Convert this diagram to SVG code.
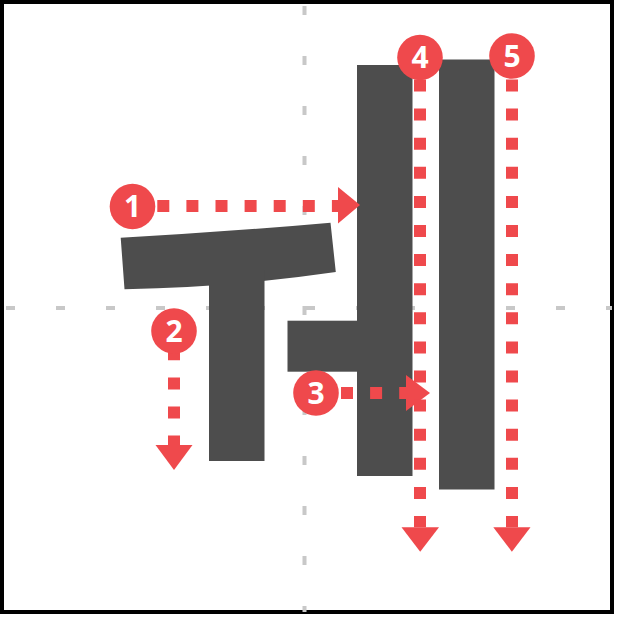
<svg xmlns="http://www.w3.org/2000/svg" width="617" height="617" viewBox="0 0 617 617">
<defs>
<style>
.guide{stroke:#c8c8c8;stroke-width:4;stroke-dasharray:9 41;fill:none}
.stroke{fill:#4d4d4d}
.flow{stroke:#ef494c;stroke-width:12;stroke-dasharray:12 17.1;fill:none}
.head{fill:#ef494c}
.badge{fill:#ef494c}
.num{fill:#ffffff;font-family:"Open Sans","Liberation Sans",sans-serif;font-weight:bold;font-size:30px;text-anchor:middle}
</style>
</defs>
<rect x="0" y="0" width="617" height="617" fill="#ffffff"/>
<rect x="2" y="2" width="610" height="610" fill="none" stroke="#000000" stroke-width="4"/>
<g id="guides">
<line class="guide" x1="304.5" y1="6" x2="304.5" y2="612"/>
<line class="guide" x1="6" y1="308" x2="612" y2="308"/>
</g>
<g id="glyph">
<path id="bar-u" class="stroke" d="M120.7,237.7 Q226,232 330.5,222.7 L335.8,272 Q230,287.5 124.5,289.2 Z"/>
<rect id="stem-u" class="stroke" x="209" y="270" width="55.5" height="191"/>
<rect id="stub-eo" class="stroke" x="287.5" y="320.7" width="75" height="51"/>
<rect id="bar-eo" class="stroke" x="357" y="65" width="55.5" height="411"/>
<rect id="bar-i" class="stroke" x="439" y="59.5" width="55.5" height="430"/>
</g>
<g id="connectors">
<line class="flow" x1="157.3" y1="206" x2="338.3" y2="206"/>
<polygon class="head" points="338,187 360,205 338,223.5"/>
<line class="flow" x1="174" y1="348.3" x2="174" y2="445"/>
<polygon class="head" points="155.5,445 192.5,445 174,470"/>
<line class="flow" x1="341" y1="393" x2="406" y2="393"/>
<polygon class="head" points="406,375 430,393 406,411"/>
<line class="flow" x1="420" y1="79.5" x2="420" y2="527.3"/>
<polygon class="head" points="401.5,527.3 439,527.3 420.2,551.7"/>
<line class="flow" x1="512" y1="79.5" x2="512" y2="527.3"/>
<polygon class="head" points="493.3,527.3 530.5,527.3 511.9,551.7"/>
</g>
<g id="step1"><circle class="badge" cx="132.5" cy="206.5" r="22.8"/><text class="num" x="132.5" y="217">1</text></g>
<g id="step2"><circle class="badge" cx="174" cy="331" r="22.8"/><text class="num" x="174" y="341.5">2</text></g>
<g id="step3"><circle class="badge" cx="316" cy="393" r="22.8"/><text class="num" x="316" y="403.5">3</text></g>
<g id="step4"><circle class="badge" cx="420" cy="57.5" r="22.8"/><text class="num" x="420" y="68">4</text></g>
<g id="step5"><circle class="badge" cx="512" cy="56" r="22.8"/><text class="num" x="512" y="66.5">5</text></g>
</svg>
